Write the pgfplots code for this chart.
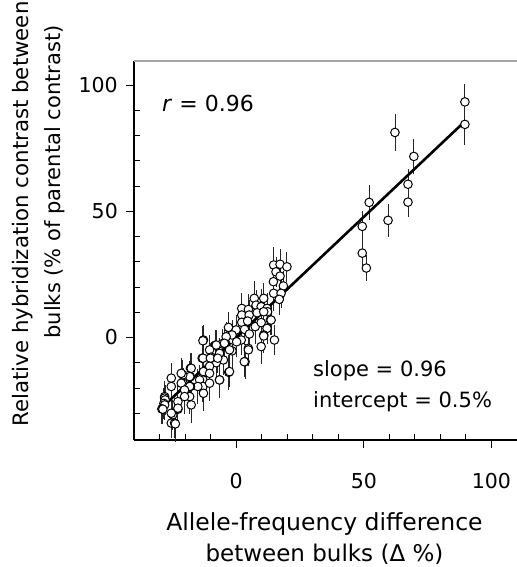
\documentclass[border=0pt]{standalone}
\usepackage{pgfplots}
\pgfplotsset{compat=1.18}
\usepackage{pgfplotstable}
\usepackage{fontspec}
\setmainfont{DejaVu Sans}
\pgfplotstableread{
x y e
89.6 93.3 7
89.6 84.4 8
62.2 81.2 7.5
69.6 71.7 7
67.3 60.7 6
67.3 53.6 6
59.5 46.4 6.5
52.1 53.5 7
49.4 44.0 6
49.4 33.4 5
51.0 27.5 5
14.7 28.7 7
17.2 29.0 6
19.9 28.0 6
15.6 26.0 6
17.2 24.3 6
14.6 22.1 7
18.5 20.4 6
14.7 17.5 7
17.6 17.5 6
16.9 15.1 6
7.1 15.5 7
10.8 15.5 6
2.2 11.5 6
4.8 11.1 6
7.8 12.8 6
9.8 12.2 7
12.1 11.5 6
12.3 10.2 6
2.2 8.9 6
5.1 8.9 6
8.2 9.8 7
10.8 10.2 6
13.4 6.9 6
13.7 6.9 6
2.2 6.0 6
4.5 6.5 6
7.5 4.3 7
9.8 5.9 6
12.1 3.6 6
-3.0 4.0 6
0.0 3.0 6
3.3 3.2 6
5.2 1.4 6
10.8 1.0 7
10.8 0.6 6
15.0 -1.0 6
9.8 -3.6 7
4.8 -4.3 7
4.8 -4.9 6
2.0 -1.0 6
-1.3 -1.0 6
-1.6 1.0 6
0.2 -1.7 6
-3.9 0.3 6
-5.5 -2.5 6
-4.6 -2.3 6
-1.6 -5.3 7
-2.6 -4.9 6
3.5 -9.6 7
3.2 -9.6 6
-5.0 -8.9 6
-7.8 -10.0 6
-2.9 -13.8 7
-2.6 -13.5 6
-6.5 -16.8 7
-12.8 -1.0 6
-13.0 -1.3 6
-8.1 -3.0 6
-7.8 -3.0 6
-10.4 -4.9 6
-9.8 -7.8 6
-6.5 -6.3 6
-13.3 -8.2 6
-13.0 -8.2 6
-10.1 -8.2 6
-7.2 -8.2 6
-10.4 -11.4 7
-12.8 -13.5 7
-10.4 -14.2 7
-13.0 -16.8 7
-14.3 -16.8 6
-13.0 -19.4 6
-10.4 -18.1 7
-6.5 -16.8 6
-15.0 -19.4 7
-12.8 -22.1 7
-17.9 -12.2 6
-17.6 -12.2 6
-17.9 -15.5 6
-18.2 -15.5 6
-20.9 -14.8 6
-20.8 -18.1 6
-21.5 -18.1 6
-17.9 -19.4 7
-18.2 -19.4 6
-18.2 -23.4 7
-17.6 -26.7 7
-21.5 -14.2 6
-20.2 -20.8 6
-20.2 -23.4 7
-25.4 -16.1 6
-25.4 -19.4 6
-22.8 -25.4 7
-22.8 -28.4 6
-22.8 -28.0 6
-28.0 -23.4 6
-28.0 -24.0 6
-27.8 -24.7 6
-28.3 -26.1 6
-28.0 -26.7 6
-29.1 -28.3 6
-28.7 -28.4 6
-24.8 -30.6 6
-25.4 -30.0 6
-25.4 -33.9 6
-24.1 -33.9 6
-23.8 -34.2 7
}\pts
\begin{document}
\begin{tikzpicture}
\useasboundingbox (-134bp,-127bp) rectangle (383bp,440bp);
\begin{axis}[
  at={(0,0)}, anchor=south west,
  scale only axis, width=383bp, height=379bp,
  xmin=-40, xmax=110, ymin=-40.6, ymax=109.5,
  axis x line*=bottom, axis y line*=left,
  axis line style={-, line width=1.1bp, black},
  xtick={0,50,100}, ytick={0,50,100},
  minor xtick={-30,-20,-10,10,20,30,40,60,70,80,90},
  minor ytick={-30,-20,-10,10,20,30,40,60,70,80,90},
  tick align=inside,
  major tick length=8bp, minor tick length=6bp,
  tick style={black, line width=0.9bp},
  major x tick style={yshift=-8bp},
  major y tick style={xshift=-8bp},
  /pgf/number format/assume math mode=true,
  tick label style={font=\fontsize{20.5bp}{24bp}\selectfont, inner sep=0pt},
  xticklabel style={anchor=base, yshift=-48bp},
  yticklabel style={anchor=east, xshift=-16bp},
  clip=false,
]
\draw[gray!70, line width=1.2bp] (rel axis cs:0,1) -- (rel axis cs:1,1);
\addplot[only marks, mark=*, mark size=4.3bp,
  mark options={fill=white, draw=black, line width=1bp},
  error bars/.cd, y dir=both, y explicit, error mark=none,
  error bar style={line width=0.9bp, black!85}]
  table[x=x, y=y, y error=e] {\pts};
\addplot[black, line width=2.6bp, no marks] coordinates {(-29.3,-28.0) (89.6,85.6)};
\end{axis}
\node[anchor=base west, inner sep=0pt, font=\fontsize{22bp}{26bp}\selectfont] at (28bp,328bp) {\textit{r} = 0.96};
\node[anchor=base west, inner sep=0pt, font=\fontsize{21bp}{25bp}\selectfont] at (179bp,63bp) {slope = 0.96};
\node[anchor=base west, inner sep=0pt, font=\fontsize{21bp}{25bp}\selectfont] at (179bp,33bp) {intercept = 0.5\%};
\node[anchor=base, inner sep=0pt, font=\fontsize{23.5bp}{28bp}\selectfont] at (190.5bp,-90bp) {Allele-frequency difference};
\node[anchor=base, inner sep=0pt, font=\fontsize{23bp}{28bp}\selectfont] at (190.5bp,-121bp) {between bulks (Δ \%)};
\node[anchor=base, rotate=90, inner sep=0pt, font=\fontsize{21.3bp}{26bp}\selectfont] at (-105bp,226bp) {Relative hybridization contrast between};
\node[anchor=base, rotate=90, inner sep=0pt, font=\fontsize{21bp}{26bp}\selectfont] at (-73bp,258bp) {bulks (\% of parental contrast)};
\end{tikzpicture}
\end{document}
